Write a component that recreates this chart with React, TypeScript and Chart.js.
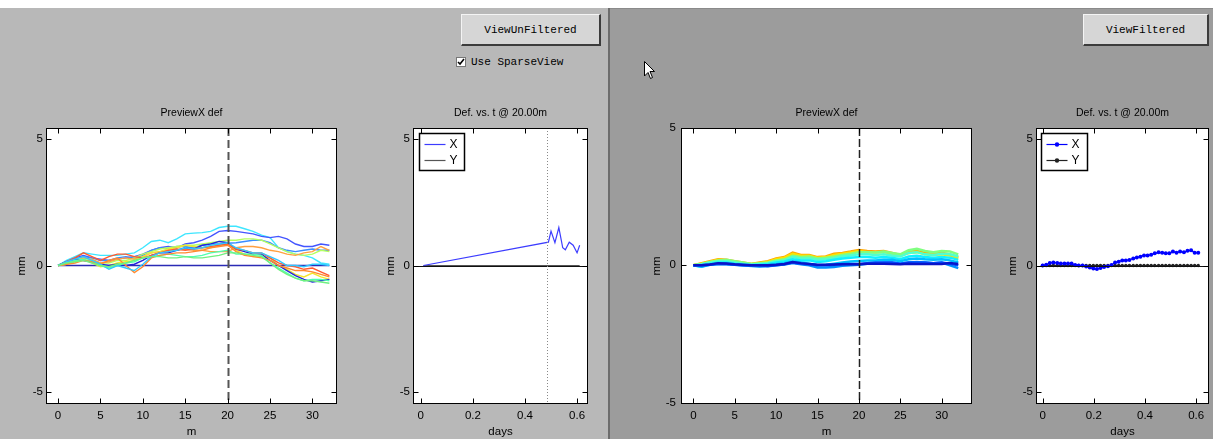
import React, { useEffect, useRef } from 'react';
import Chart from 'chart.js/auto';

const FONT = "'Liberation Sans Narrow', 'Liberation Sans', Arial, sans-serif";
const MONO = "'Liberation Mono', 'DejaVu Sans Mono', monospace";

// ---------- axes ----------
const positionsM = [0, 1, 2, 3, 4, 5, 6, 7, 8, 9, 10, 11, 12, 13, 14, 15, 16, 17, 18, 19, 20, 21, 22, 23, 24, 25, 26, 27, 28, 29, 30, 31, 32];
const mTicks = [0, 5, 10, 15, 20, 25, 30];
const mTickLabels = ['0', '5', '10', '15', '20', '25', '30'];
const mmTicks = [-5, 0, 5];
const mmTickLabels = ['-5', '0', '5'];
const dayTicks = [0, 0.2, 0.4, 0.6];
const dayTickLabels = ['0', '0.2', '0.4', '0.6'];
const cursorPositionM = 20;
const cursorTimeDays = 0.485;

// ---------- unfiltered preview (X def vs position) ----------
const rawZero = [0, 0, 0, 0, 0, 0, 0, 0, 0, 0, 0, 0, 0, 0, 0, 0, 0, 0, 0, 0, 0, 0, 0, 0, 0, 0, 0, 0, 0, 0, 0, 0, 0];
const rawA = [0, 0.2, 0.35, 0.5, 0.45, 0.4, 0.4, 0.4, 0.45, 0.5, 0.7, 0.95, 1.0, 0.9, 1.05, 1.25, 1.28, 1.3, 1.35, 1.5, 1.55, 1.55, 1.45, 1.35, 1.2, 1.1, 0.7, 0.55, 0.45, 0.4, 0.3, 0.1, 0.05];
const rawB = [0, 0.15, 0.3, 0.4, 0.3, 0.25, 0.2, 0.25, 0.3, 0.35, 0.45, 0.6, 0.7, 0.75, 0.7, 0.85, 0.9, 1.0, 1.15, 1.35, 1.38, 1.35, 1.3, 1.25, 1.15, 1.1, 1.15, 1.05, 0.85, 0.75, 0.75, 0.85, 0.8];
const rawC = [0, 0.1, 0.25, 0.35, 0.3, 0.2, 0.2, 0.3, 0.35, 0.3, 0.4, 0.6, 0.7, 0.65, 0.75, 0.75, 0.7, 0.8, 0.85, 0.85, 0.88, 0.9, 0.95, 1.0, 1.0, 0.9, 0.7, 0.6, 0.55, 0.6, 0.65, 0.6, 0.6];
const rawD = [0, 0.05, 0.2, 0.3, 0.2, 0.1, 0.1, 0.2, 0.2, 0.3, 0.45, 0.55, 0.65, 0.7, 0.75, 0.8, 0.8, 0.85, 0.9, 0.95, 1.0, 1.0, 1.05, 1.05, 1.0, 0.85, 0.7, 0.55, 0.45, 0.4, 0.45, 0.6, 0.55];
const rawE = [0, 0.05, 0.15, 0.3, 0.25, 0.1, 0.15, 0.25, 0.3, 0.25, 0.35, 0.5, 0.55, 0.6, 0.6, 0.65, 0.6, 0.6, 0.55, 0.55, 0.55, 0.7, 0.75, 0.75, 0.7, 0.6, 0.55, 0.45, 0.4, 0.5, 0.55, 0.75, 0.6];
const rawF = [0, 0.1, 0.2, 0.25, 0.1, -0.05, 0.0, 0.1, 0.15, 0.2, 0.35, 0.5, 0.55, 0.65, 0.7, 0.8, 0.75, 0.7, 0.7, 0.8, 0.85, 0.6, 0.45, 0.35, 0.35, 0.3, 0.0, -0.15, -0.35, -0.45, -0.3, -0.45, -0.55];
const rawG = [0, 0.15, 0.25, 0.2, 0.15, 0.05, 0.0, 0.05, 0.0, 0.05, 0.2, 0.4, 0.5, 0.5, 0.6, 0.7, 0.65, 0.8, 0.85, 0.95, 0.9, 0.65, 0.55, 0.45, 0.45, 0.2, 0.0, -0.2, -0.4, -0.55, -0.65, -0.6, -0.55];
const rawH = [0, 0.15, 0.3, 0.5, 0.35, 0.2, 0.35, 0.45, 0.45, 0.35, 0.3, 0.4, 0.5, 0.6, 0.65, 0.6, 0.65, 0.7, 0.75, 0.8, 0.85, 0.65, 0.6, 0.5, 0.5, 0.3, 0.1, 0.0, -0.05, -0.15, -0.1, -0.25, -0.4];
const rawI = [0, 0.1, 0.2, 0.25, 0.15, 0.0, -0.1, 0.0, 0.1, 0.15, 0.3, 0.35, 0.4, 0.45, 0.4, 0.35, 0.35, 0.4, 0.5, 0.55, 0.6, 0.45, 0.45, 0.45, 0.4, 0.1, -0.1, -0.3, -0.5, -0.6, -0.55, -0.55, -0.6];
const rawJ = [0, 0.05, 0.1, 0.2, 0.15, 0.05, 0.2, 0.3, 0.0, -0.28, -0.05, 0.3, 0.4, 0.45, 0.5, 0.5, 0.55, 0.6, 0.7, 0.75, 0.8, 0.55, 0.4, 0.35, 0.3, 0.2, 0.0, -0.1, -0.2, -0.2, -0.25, -0.35, -0.45];
const rawK = [0, 0.15, 0.25, 0.35, 0.2, 0.05, -0.15, 0.0, -0.1, -0.2, 0.05, 0.35, 0.5, 0.55, 0.6, 0.7, 0.65, 0.7, 0.8, 0.85, 0.9, 0.7, 0.6, 0.5, 0.5, 0.35, 0.2, 0.0, 0.0, -0.05, 0.05, 0.05, 0.0];
const rawL = [0, 0.1, 0.15, 0.2, 0.1, 0.0, -0.05, 0.05, 0.1, 0.2, 0.3, 0.35, 0.35, 0.3, 0.3, 0.35, 0.3, 0.3, 0.35, 0.4, 0.5, 0.5, 0.45, 0.4, 0.35, 0.1, -0.15, -0.35, -0.5, -0.6, -0.6, -0.65, -0.7];
const rawSeries = [rawZero, rawA, rawB, rawC, rawD, rawE, rawF, rawG, rawH, rawI, rawJ, rawK, rawL];
const rawColors = ['#2b2bb5', '#3ee6ff', '#4455ff', '#3a8cff', '#b4ff60', '#ffa040', '#f2e630', '#2424d8', '#ff5a30', '#50ffb0', '#ff8a30', '#30c8ff', '#70f080'];

// ---------- unfiltered def vs time (sparse) ----------
const sparseTimes = [0.01, 0.49, 0.5, 0.515, 0.53, 0.545, 0.555, 0.57, 0.585, 0.6, 0.61];
const sparseX = [0, 0.92, 1.36, 0.9, 1.5, 0.7, 0.62, 0.92, 0.8, 0.5, 0.8];
const sparseY = [0, 0, 0, 0, 0, 0, 0, 0, 0, 0, 0];

// ---------- filtered preview ----------
const filtOrange = [0, 0.08, 0.15, 0.22, 0.2, 0.15, 0.1, 0.05, 0.1, 0.15, 0.25, 0.3, 0.46, 0.38, 0.38, 0.3, 0.32, 0.42, 0.45, 0.5, 0.56, 0.52, 0.5, 0.52, 0.45, 0.38, 0.5, 0.53, 0.45, 0.42, 0.46, 0.4, 0.3];
const filtYellow = [0, 0.06, 0.12, 0.2, 0.18, 0.12, 0.08, 0.05, 0.08, 0.12, 0.22, 0.28, 0.42, 0.35, 0.35, 0.28, 0.3, 0.38, 0.42, 0.47, 0.52, 0.48, 0.47, 0.48, 0.42, 0.35, 0.45, 0.48, 0.4, 0.38, 0.4, 0.36, 0.25];
const filtGreen = [0, 0.05, 0.12, 0.18, 0.2, 0.15, 0.1, 0.05, 0.08, 0.1, 0.18, 0.22, 0.35, 0.3, 0.32, 0.25, 0.28, 0.32, 0.38, 0.42, 0.48, 0.48, 0.47, 0.5, 0.45, 0.4, 0.55, 0.6, 0.52, 0.48, 0.52, 0.5, 0.4];
const filtAqua = [0, 0.04, 0.1, 0.15, 0.15, 0.1, 0.06, 0.03, 0.05, 0.08, 0.14, 0.18, 0.3, 0.25, 0.25, 0.2, 0.22, 0.26, 0.32, 0.36, 0.4, 0.4, 0.38, 0.4, 0.36, 0.32, 0.45, 0.48, 0.4, 0.38, 0.42, 0.4, 0.32];
const filtCyan = [0, -0.05, 0.05, 0.1, 0.1, 0.06, 0.03, 0.0, 0.02, 0.05, 0.1, 0.14, 0.22, 0.18, 0.18, 0.12, 0.15, 0.2, 0.25, 0.28, 0.3, 0.3, 0.28, 0.3, 0.28, 0.22, 0.32, 0.35, 0.3, 0.28, 0.3, 0.28, 0.2];
const filtSky = [0, -0.05, 0.02, 0.06, 0.06, 0.03, 0.0, -0.02, -0.02, 0.0, 0.04, 0.08, 0.14, 0.1, 0.06, 0.0, 0.02, 0.06, 0.1, 0.14, 0.16, 0.18, 0.18, 0.2, 0.2, 0.15, 0.22, 0.25, 0.22, 0.2, 0.22, 0.18, 0.1];
const filtAzure = [0, 0.0, 0.02, 0.05, 0.04, 0.02, 0.0, -0.02, -0.04, -0.03, 0.0, 0.03, 0.08, 0.04, 0.0, -0.08, -0.08, -0.06, -0.02, 0.0, 0.02, 0.06, 0.08, 0.1, 0.1, 0.06, 0.1, 0.12, 0.1, 0.08, 0.1, 0.0, -0.1];
const filtBlue = [0, 0.0, 0.02, 0.06, 0.05, 0.02, 0.0, 0.0, 0.0, -0.02, 0.0, 0.04, 0.1, 0.06, 0.04, 0.0, 0.0, 0.02, 0.05, 0.05, 0.05, 0.08, 0.1, 0.1, 0.1, 0.06, 0.1, 0.1, 0.1, 0.08, 0.1, 0.06, 0.0];
const filtNavy = [0, 0.0, 0.03, 0.08, 0.07, 0.04, 0.02, 0.0, 0.0, 0.0, 0.02, 0.05, 0.12, 0.08, 0.05, 0.02, 0.02, 0.03, 0.04, 0.04, 0.04, 0.06, 0.06, 0.06, 0.05, 0.04, 0.06, 0.05, 0.05, 0.05, 0.05, 0.08, 0.05];
const filtSeries = [filtNavy, filtBlue, filtAzure, filtSky, filtCyan, filtAqua, filtGreen, filtYellow, filtOrange];
const filtColors = ['#0a14c8', '#0050ff', '#0090ff', '#00c0ff', '#10f0ff', '#50ffd0', '#80ff80', '#ffe000', '#ffa800'];

// ---------- filtered def vs time ----------
const filtTimes = [0, 0.014, 0.028, 0.042, 0.057, 0.071, 0.085, 0.099, 0.113, 0.127, 0.141, 0.156, 0.17, 0.184, 0.198, 0.212, 0.226, 0.24, 0.255, 0.269, 0.283, 0.297, 0.311, 0.325, 0.339, 0.354, 0.368, 0.382, 0.396, 0.41, 0.424, 0.438, 0.453, 0.467, 0.481, 0.495, 0.509, 0.523, 0.537, 0.552, 0.566, 0.58, 0.594, 0.608];
const filtTimeX = [0, 0.03, 0.1, 0.12, 0.1, 0.08, 0.08, 0.08, 0.08, 0.02, 0, 0, -0.04, -0.08, -0.12, -0.14, -0.1, -0.06, -0.03, 0.02, 0.12, 0.15, 0.2, 0.2, 0.22, 0.28, 0.32, 0.35, 0.4, 0.4, 0.42, 0.48, 0.52, 0.5, 0.48, 0.48, 0.55, 0.5, 0.55, 0.52, 0.58, 0.6, 0.5, 0.5];
const filtTimeY = [0, 0, 0, 0, 0, 0, 0, 0, 0, 0, 0, 0, 0, 0, 0, 0, 0, 0, 0, 0, 0, 0, 0, 0, 0, 0, 0, 0, 0, 0, 0, 0, 0, 0, 0, 0, 0, 0, 0, 0, 0, 0, 0, 0];

const pts = (xs: number[], ys: number[]) => xs.map((x, i) => ({ x, y: ys[i] }));

const matlabPlugin = {
  id: 'matlab',
  beforeDraw(chart: any) {
    const { ctx, chartArea: a } = chart;
    ctx.save();
    ctx.fillStyle = '#ffffff';
    ctx.fillRect(a.left, a.top, a.right - a.left, a.bottom - a.top);
    ctx.restore();
  },
  afterDatasetsDraw(chart: any, _args: any, o: any) {
    const { ctx, chartArea: a, scales } = chart;
    ctx.save();
    if (o.zeroLine) {
      const py = Math.round(scales.y.getPixelForValue(0)) + 0.5;
      ctx.strokeStyle = '#111';
      ctx.lineWidth = 1;
      ctx.beginPath();
      ctx.moveTo(a.left, py);
      ctx.lineTo(a.right, py);
      ctx.stroke();
    }
    if (o.vLine) {
      const px = Math.round(scales.x.getPixelForValue(o.vLine.value)) + 0.5;
      ctx.strokeStyle = o.vLine.color;
      ctx.lineWidth = o.vLine.width;
      ctx.setLineDash(o.vLine.dash);
      ctx.beginPath();
      ctx.moveTo(px, a.top);
      ctx.lineTo(px, a.bottom);
      ctx.stroke();
    }
    ctx.restore();
  },
  afterDraw(chart: any, _args: any, o: any) {
    const { ctx, chartArea: a, scales } = chart;
    ctx.save();
    ctx.strokeStyle = '#000';
    ctx.lineWidth = 1;
    const L = Math.round(a.left) + 0.5, R = Math.round(a.right) - 0.5;
    const T = Math.round(a.top) + 0.5, B = Math.round(a.bottom) - 0.5;
    ctx.strokeRect(L, T, R - L, B - T);
    const tl = 5;
    ctx.beginPath();
    scales.x.ticks.forEach((t: any) => {
      const px = Math.round(scales.x.getPixelForValue(t.value)) + 0.5;
      ctx.moveTo(px, B); ctx.lineTo(px, B - tl);
      ctx.moveTo(px, T); ctx.lineTo(px, T + tl);
    });
    scales.y.ticks.forEach((t: any) => {
      const py = Math.round(scales.y.getPixelForValue(t.value)) + 0.5;
      ctx.moveTo(L, py); ctx.lineTo(L + tl, py);
      ctx.moveTo(R, py); ctx.lineTo(R - tl, py);
    });
    ctx.stroke();
    if (o.legend) {
      const lg = o.legend;
      const bx = Math.round(a.left + lg.dx) + 0.5, by = Math.round(a.top + lg.dy) + 0.5;
      ctx.fillStyle = '#fff';
      ctx.fillRect(bx, by, lg.w, lg.h);
      ctx.strokeStyle = '#000';
      ctx.lineWidth = 1.5;
      ctx.strokeRect(bx, by, lg.w, lg.h);
      chart.data.datasets.forEach((ds: any, i: number) => {
        const ry = Math.round(by + 10 + i * 16) + 0.5;
        ctx.strokeStyle = ds.borderColor;
        ctx.lineWidth = 1.2;
        ctx.beginPath();
        ctx.moveTo(bx + 5, ry);
        ctx.lineTo(bx + 26, ry);
        ctx.stroke();
        if (ds.pointRadius > 0) {
          ctx.fillStyle = ds.borderColor;
          ctx.beginPath();
          ctx.arc(bx + 15.5, ry, 2.2, 0, Math.PI * 2);
          ctx.fill();
        }
        ctx.fillStyle = '#000';
        ctx.font = `12px ${FONT}`;
        ctx.textBaseline = 'middle';
        ctx.textAlign = 'left';
        ctx.fillText(ds.label, bx + 30, ry);
      });
    }
    ctx.restore();
  },
};

type Spec = {
  left: number; top: number; width: number; height: number;
  title: string; xTitle: string;
  xMin: number; xMax: number; xTicks: number[]; xTickLabels: string[];
  yMin: number; yMax: number;
  yAxisWidth: number; yTitleX: number; rightPad: number; yTickPad: number;
  datasets: any[];
  matlab: any;
};

function MatlabAxes({ spec }: { spec: Spec }) {
  const ref = useRef<HTMLCanvasElement | null>(null);
  useEffect(() => {
    if (!ref.current) return;
    const font = { family: FONT, size: 11.5, weight: 'normal' };
    const titleFont = { family: FONT, size: 10.5, weight: 'normal', lineHeight: 1.25 };
    const chart = new Chart(ref.current, {
      type: 'line',
      data: { datasets: spec.datasets },
      plugins: [matlabPlugin],
      options: {
        responsive: false,
        animation: false,
        events: [],
        layout: { padding: { left: 0, right: spec.rightPad, top: 0, bottom: 0 } },
        plugins: {
          legend: { display: false },
          tooltip: { enabled: false },
          title: {
            display: true, text: spec.title, color: '#000', font: titleFont,
            padding: { top: 6.5, bottom: 8.4 }, fullSize: false,
          },
          matlab: spec.matlab,
        } as any,
        scales: {
          x: {
            type: 'linear', min: spec.xMin, max: spec.xMax,
            afterBuildTicks: (s: any) => { s.ticks = spec.xTicks.map((v) => ({ value: v })); },
            afterFit: (s: any) => { s.height = 35; },
            ticks: { color: '#000', font, padding: 5, maxRotation: 0, autoSkip: false, callback: (_v: any, i: number) => spec.xTickLabels[i] },
            grid: { display: false, drawTicks: false },
            border: { display: false },
            title: { display: true, text: spec.xTitle, color: '#000', font, padding: { top: 0, bottom: 0.5 } },
          },
          y: {
            type: 'linear', min: spec.yMin, max: spec.yMax,
            afterBuildTicks: (s: any) => { s.ticks = mmTicks.map((v) => ({ value: v })); },
            afterFit: (s: any) => { s.width = spec.yAxisWidth; },
            ticks: { color: '#000', font, padding: spec.yTickPad, autoSkip: false, callback: (_v: any, i: number) => mmTickLabels[i] },
            grid: { display: false, drawTicks: false },
            border: { display: false },
            title: { display: true, text: 'mm', color: '#000', font, padding: { top: spec.yTitleX - 6.9, bottom: 0 } },
          },
        },
      } as any,
    });
    return () => chart.destroy();
  }, [spec]);
  return (
    <canvas
      ref={ref}
      width={spec.width}
      height={spec.height}
      style={{ position: 'absolute', left: spec.left, top: spec.top, width: spec.width, height: spec.height }}
    />
  );
}

const lineDs = (label: string, xs: number[], ys: number[], color: string, width: number, order: number) => ({
  label, data: pts(xs, ys), borderColor: color, backgroundColor: color, borderWidth: width,
  pointRadius: 0, tension: 0, fill: false, order,
});

const specs: Spec[] = [
  {
    left: 0, top: 100, width: 350, height: 339,
    title: 'PreviewX def', xTitle: 'm',
    xMin: -1.42, xMax: 32.9, xTicks: mTicks, xTickLabels: mTickLabels,
    yMin: -5.47, yMax: 5.43, yAxisWidth: 46, yTitleX: 22, rightPad: 13, yTickPad: 3,
    datasets: rawSeries.map((s, i) => lineDs('row ' + i, positionsM, s, rawColors[i], i === 0 ? 1.5 : 1.4, rawSeries.length - i)),
    matlab: { vLine: { value: cursorPositionM, color: '#555', width: 2, dash: [8, 4] } },
  },
  {
    left: 360, top: 100, width: 250, height: 339,
    title: 'Def. vs. t @ 20.00m', xTitle: 'days',
    xMin: -0.03, xMax: 0.642, xTicks: dayTicks, xTickLabels: dayTickLabels,
    yMin: -5.47, yMax: 5.43, yAxisWidth: 53, yTitleX: 30.5, rightPad: 22, yTickPad: 3,
    datasets: [
      lineDs('X', sparseTimes, sparseX, '#3c3cff', 1.2, 0),
      lineDs('Y', sparseTimes, sparseY, '#555555', 1.2, 1),
    ],
    matlab: {
      zeroLine: true,
      vLine: { value: cursorTimeDays, color: '#888', width: 1, dash: [1, 2] },
      legend: { dx: 6, dy: 5, w: 45, h: 37 },
    },
  },
  {
    left: 610, top: 100, width: 375, height: 339,
    title: 'PreviewX def', xTitle: 'm',
    xMin: -1.49, xMax: 33.66, xTicks: mTicks, xTickLabels: mTickLabels,
    yMin: -5.05, yMax: 5.0, yAxisWidth: 71, yTitleX: 46.7, rightPad: 13, yTickPad: 5,
    datasets: filtSeries.map((s, i) => lineDs('row ' + i, positionsM, s, filtColors[i], 2.5, i)),
    matlab: { vLine: { value: cursorPositionM, color: '#222', width: 1.5, dash: [8, 3] } },
  },
  {
    left: 990, top: 100, width: 223, height: 339,
    title: 'Def. vs. t @ 20.00m', xTitle: 'days',
    xMin: -0.026, xMax: 0.65, xTicks: dayTicks, xTickLabels: dayTickLabels,
    yMin: -5.47, yMax: 5.43, yAxisWidth: 46, yTitleX: 22.7, rightPad: 2, yTickPad: 3,
    datasets: [
      { ...lineDs('X', filtTimes, filtTimeX, '#0000ff', 1.2, 0), pointRadius: 2, pointBorderWidth: 0 },
      { ...lineDs('Y', filtTimes, filtTimeY, '#222222', 1.2, 1), pointRadius: 1.7, pointBorderWidth: 0 },
    ],
    matlab: { zeroLine: true, legend: { dx: 5, dy: 5, w: 46, h: 37 } },
  },
];

const buttonStyle = (left: number, width: number): React.CSSProperties => ({
  position: 'absolute', left, top: 14, width, height: 32, boxSizing: 'border-box',
  background: '#d6d6d6', borderTop: '1px solid #f4f4f4', borderLeft: '1px solid #f4f4f4',
  borderRight: '2px solid #3c3c3c', borderBottom: '2px solid #3c3c3c',
  display: 'flex', alignItems: 'center', justifyContent: 'center',
  fontFamily: MONO, fontSize: 11, color: '#000',
});

export default function App() {
  return (
    <div style={{ position: 'fixed', left: 0, top: 0, width: 1213, height: 439, background: '#ffffff', overflow: 'hidden' }}>
      <div style={{ position: 'absolute', left: 0, top: 8, width: 608, height: 431, background: '#b8b8b8' }} />
      <div style={{ position: 'absolute', left: 608, top: 8, width: 2, height: 431, background: '#6c6c6c' }} />
      <div style={{ position: 'absolute', left: 610, top: 8, width: 603, height: 431, background: '#9c9c9c', borderTop: '1px solid #8a8a8a', boxSizing: 'border-box' }} />
      <div style={buttonStyle(461, 140)}>ViewUnFiltered</div>
      <div style={buttonStyle(1083, 126)}>ViewFiltered</div>
      <div style={{ position: 'absolute', left: 456, top: 57, width: 10, height: 10, background: '#fff', border: '1px solid #777', boxSizing: 'border-box' }}>
        <svg width="8" height="8" style={{ position: 'absolute', left: 0, top: 0 }}>
          <polyline points="1,4 3,6 7,1" fill="none" stroke="#000" strokeWidth="1.6" />
        </svg>
      </div>
      <div style={{ position: 'absolute', left: 471, top: 55, height: 14, lineHeight: '14px', fontFamily: MONO, fontSize: 11, color: '#000', whiteSpace: 'nowrap' }}>Use SparseView</div>
      <svg width="14" height="20" style={{ position: 'absolute', left: 644, top: 61 }}>
        <polygon points="0.5,0.5 0.5,15 4,11.5 6.5,17.5 8.5,16.5 6,10.5 10.5,10.5" fill="#fff" stroke="#000" strokeWidth="1" />
      </svg>
      {specs.map((s, i) => <MatlabAxes key={i} spec={s} />)}
    </div>
  );
}
